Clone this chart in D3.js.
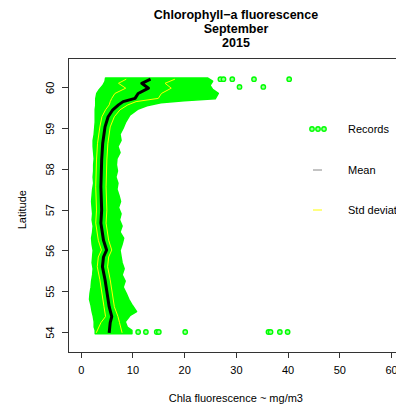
<!DOCTYPE html>
<meta charset="utf-8">
<style>
body {
  margin: 0;
  background-color: #ffffff;
}
text {
  font-family: "Liberation Sans", Arial, sans-serif;
  fill: #000;
}
.axis path,
.axis line {
  fill: none;
  stroke: #333;
  stroke-width: 1px;
  shape-rendering: crispEdges;
}
.axis text {
  font-size: 11px;
}
.title {
  font-size: 12.5px;
  font-weight: bold;
}
</style>
<body>
<svg width="396" height="408"></svg>
</body>

<script src="https://d3js.org/d3.v7.min.js"></script>

<script>

// envelope of the record cloud (latitude, min and max chla)
var envLat = [60.23, 60.15, 60.05, 59.95, 59.85, 59.72, 59.67, 59.62, 59.55, 59.46, 59.32, 59.15, 59.00, 58.85,
              58.70, 58.55, 58.40, 58.25, 58.10, 57.95, 57.80, 57.65, 57.50, 57.35, 57.20, 57.05, 56.90, 56.75,
              56.60, 56.45, 56.30, 56.15, 56.00, 55.85, 55.70, 55.55, 55.40, 55.25, 55.10, 54.95, 54.80, 54.65,
              54.50, 54.40, 54.25, 54.12, 54.04, 53.96];
var envLo  = [4.8, 4.7, 4.3, 3.6, 3.1, 2.9, 2.9, 2.9, 2.9, 2.8, 2.8, 2.8, 2.7, 2.6,
              2.4, 2.4, 2.5, 2.6, 2.5, 2.5, 2.4, 2.5, 2.3, 2.2, 2.1, 2.2, 2.3, 2.2,
              2.4, 2.3, 2.1, 2.2, 2.4, 2.3, 2.2, 2.4, 2.3, 2.1, 2.0, 1.8, 1.7, 2.0,
              2.2, 2.4, 2.6, 2.6, 2.8, 2.8];
var envHi  = [24.5, 25.5, 25.0, 25.5, 26.6, 26.0, 20.0, 15.5, 12.8, 11.0, 9.5, 8.7, 8.2, 7.6,
              7.8, 7.2, 7.6, 7.0, 6.9, 7.1, 6.8, 7.2, 7.0, 7.4, 7.7, 7.3, 7.8, 7.5,
              8.0, 7.6, 8.3, 8.0, 7.6, 7.8, 8.0, 8.4, 8.0, 8.6, 8.2, 8.8, 9.3, 10.0,
              10.8, 9.5, 8.6, 9.0, 9.9, 9.9];

// mean and standard deviation profile
var meanLat = [60.20, 60.10, 59.98, 59.85, 59.73, 59.65, 59.57, 59.45, 59.28, 59.03, 58.63, 58.22, 57.56,
               56.99, 56.67, 56.25, 56.01, 55.84, 55.60, 55.28, 54.62, 54.38, 54.23, 53.98];
var meanVal = [13.5, 11.8, 13.1, 11.1, 10.5, 8.2, 7.3, 6.2, 5.3, 4.7, 4.25, 4.05, 3.9,
               4.05, 3.9, 4.4, 5.0, 4.4, 4.2, 4.7, 5.5, 6.0, 5.7, 5.5];
var sdVal   = [4.7, 4.5, 4.4, 4.5, 4.5, 2.5, 1.8, 1.4, 1.2, 1.0, 1.0, 1.0, 1.0,
               1.0, 1.0, 1.0, 1.0, 1.0, 1.0, 1.0, 1.0, 1.2, 1.8, 2.5];

// isolated records outside the cloud
var outLat = [60.20, 60.20, 60.20, 60.20, 60.20, 60.01, 60.01,
              54.00, 54.00, 54.00, 54.00, 54.00, 54.00, 54.00, 54.00, 54.00];
var outVal = [27.0, 27.6, 29.3, 33.5, 40.3, 30.7, 35.3,
              11.1, 12.6, 14.7, 15.1, 20.2, 36.3, 36.7, 38.5, 40.0];

var xTicks = [0, 10, 20, 30, 40, 50, 60];
var yTicks = [54, 55, 56, 57, 58, 59, 60];
var legendLabels = ["Records", "Mean", "Std deviation"];
var titleLines = ["Chlorophyll\u2212a fluorescence", "September", "2015"];

var margin = {top: 58, right: -8, bottom: 56, left: 68},
    width = 396 - margin.left - margin.right,
    height = 408 - margin.top - margin.bottom;

var x = d3.scaleLinear().domain([-2.46, 62.5]).range([0, width]);
var y = d3.scaleLinear().domain([53.51, 60.72]).range([height, 0]);

var svg = d3.select("svg");

var g = svg.append("g")
	.attr("transform", "translate(" + margin.left + "," + margin.top + ")");

// record cloud
var env = envLat.map(function(d, i) { return {lat: d, lo: envLo[i], hi: envHi[i]}; });

var area = d3.area()
	.y(function(d) { return y(d.lat); })
	.x0(function(d) { return x(d.lo); })
	.x1(function(d) { return x(d.hi); });

g.append("path")
	.datum(env)
	.attr("d", area)
	.attr("fill", "#00ff00")
	.attr("stroke", "#00ff00")
	.attr("stroke-width", 1.5)
	.attr("stroke-linejoin", "round");

var outs = outLat.map(function(d, i) { return {lat: d, v: outVal[i]}; });

g.selectAll(".rec").data(outs)
	.enter()
	.append("circle")
	.attr("class", "rec")
	.attr("cx", function(d) { return x(d.v); })
	.attr("cy", function(d) { return y(d.lat); })
	.attr("r", 2.2)
	.attr("fill", "#99ff99")
	.attr("stroke", "#00ff00")
	.attr("stroke-width", 1.4);

// mean and std lines
var prof = meanLat.map(function(d, i) { return {lat: d, m: meanVal[i], s: sdVal[i]}; });

var lineLo = d3.line()
	.x(function(d) { return x(d.m - d.s); })
	.y(function(d) { return y(d.lat); });
var lineHi = d3.line()
	.x(function(d) { return x(d.m + d.s); })
	.y(function(d) { return y(d.lat); });
var lineMean = d3.line()
	.x(function(d) { return x(d.m); })
	.y(function(d) { return y(d.lat); });

g.append("path").datum(prof).attr("d", lineLo)
	.attr("fill", "none").attr("stroke", "#ffff00").attr("stroke-width", 1);
g.append("path").datum(prof).attr("d", lineHi)
	.attr("fill", "none").attr("stroke", "#ffff00").attr("stroke-width", 1);
g.append("path").datum(prof).attr("d", lineMean)
	.attr("fill", "none").attr("stroke", "#000").attr("stroke-width", 3)
	.attr("stroke-linejoin", "round");

// box
g.append("rect")
	.attr("x", 0.5)
	.attr("y", 0.5)
	.attr("width", width)
	.attr("height", height)
	.attr("fill", "none")
	.attr("stroke", "#333")
	.attr("stroke-width", 1);

// axes
var xAxis = d3.axisBottom(x).tickValues(xTicks).tickSize(6).tickPadding(8);
var yAxis = d3.axisLeft(y).tickValues(yTicks).tickSize(6).tickPadding(8);

var gX = g.append("g")
	.attr("class", "axis")
	.attr("transform", "translate(0," + height + ")")
	.call(xAxis);
gX.select(".domain").remove();

var gY = g.append("g")
	.attr("class", "axis")
	.call(yAxis);
gY.select(".domain").remove();
gY.selectAll("text")
	.attr("x", -18)
	.attr("dy", "0.35em")
	.attr("transform", "rotate(-90,-18,0)")
	.style("text-anchor", "middle");

// axis titles
svg.append("text")
	.attr("x", margin.left + x(30))
	.attr("y", 402)
	.style("text-anchor", "middle")
	.style("font-size", "11px")
	.text("Chla fluorescence ~ mg/m3");

svg.append("text")
	.attr("transform", "translate(26," + (margin.top + y(57)) + ")rotate(-90)")
	.style("text-anchor", "middle")
	.style("font-size", "11px")
	.text("Latitude");

// title
svg.selectAll(".title").data(titleLines)
	.enter()
	.append("text")
	.attr("class", "title")
	.attr("x", 236)
	.attr("y", function(d, i) { return 19 + i * 14; })
	.style("text-anchor", "middle")
	.text(function(d) { return d; });

// legend
var leg = svg.append("g");
var legY = [129, 170, 210];

leg.selectAll(".legdot").data([312, 318, 324])
	.enter()
	.append("circle")
	.attr("cx", function(d) { return d; })
	.attr("cy", legY[0])
	.attr("r", 2.2)
	.attr("fill", "#99ff99")
	.attr("stroke", "#00ff00")
	.attr("stroke-width", 1.4);

leg.append("line")
	.attr("x1", 313).attr("x2", 322)
	.attr("y1", legY[1]).attr("y2", legY[1])
	.attr("stroke", "#888").attr("stroke-width", 1);

leg.append("line")
	.attr("x1", 313).attr("x2", 322)
	.attr("y1", legY[2]).attr("y2", legY[2])
	.attr("stroke", "#ffff00").attr("stroke-width", 1);

leg.selectAll(".legtext").data(legendLabels)
	.enter()
	.append("text")
	.attr("x", 348)
	.attr("y", function(d, i) { return legY[i]; })
	.attr("dy", "0.35em")
	.style("font-size", "11px")
	.text(function(d) { return d; });

</script>
